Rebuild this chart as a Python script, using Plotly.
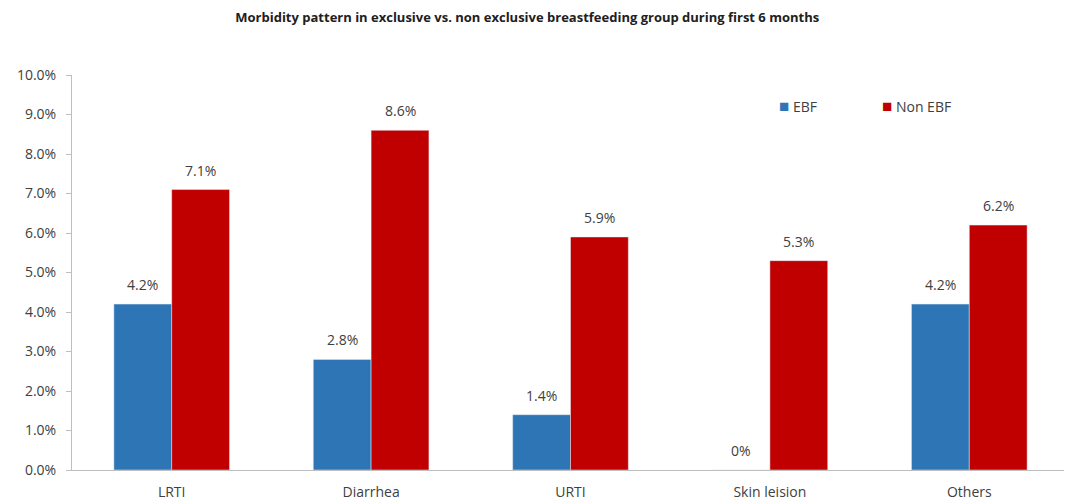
import plotly.graph_objects as go

categories = ["LRTI", "Diarrhea", "URTI", "Skin leision", "Others"]
ebf = [0.042, 0.028, 0.014, 0.0, 0.042]
non_ebf = [0.071, 0.086, 0.059, 0.053, 0.062]
ebf_labels = ["4.2%", "2.8%", "1.4%", "0%", "4.2%"]
non_ebf_labels = ["7.1%", "8.6%", "5.9%", "5.3%", "6.2%"]

EBF_COLOR = "#2E75B6"
NON_EBF_COLOR = "#C00000"
font_family = "Open Sans, Liberation Sans, sans-serif"
text_color = "#404040"

fig = go.Figure()
fig.add_bar(x=categories, y=ebf, name="EBF", marker_color=EBF_COLOR)
fig.add_bar(x=categories, y=non_ebf, name="Non EBF", marker_color=NON_EBF_COLOR)

# data labels sitting a little above each bar
annotations = []
for cat, v, lab in zip(categories, ebf, ebf_labels):
    annotations.append(dict(x=cat, y=v, text=lab, xref="x", yref="y", showarrow=False,
                            xshift=-29, yshift=8, yanchor="bottom",
                            font=dict(size=14, color=text_color)))
for cat, v, lab in zip(categories, non_ebf, non_ebf_labels):
    annotations.append(dict(x=cat, y=v, text=lab, xref="x", yref="y", showarrow=False,
                            xshift=29, yshift=8, yanchor="bottom",
                            font=dict(size=14, color=text_color)))

# legend drawn as text, Excel style (small square right next to the name)
annotations.append(dict(x=0.707, y=0.924, xref="paper", yref="paper", showarrow=False,
                        xanchor="left", yanchor="middle",
                        text=f"<span style='color:{EBF_COLOR};font-size:17px'>■</span> EBF",
                        font=dict(size=14, color=text_color)))
annotations.append(dict(x=0.81, y=0.924, xref="paper", yref="paper", showarrow=False,
                        xanchor="left", yanchor="middle",
                        text=f"<span style='color:{NON_EBF_COLOR};font-size:17px'>■</span> Non EBF",
                        font=dict(size=14, color=text_color)))

fig.update_layout(
    width=1064, height=496,
    barmode="group", bargap=0.42, bargroupgap=0,
    plot_bgcolor="white", paper_bgcolor="white",
    font=dict(family=font_family, color=text_color, size=14),
    title=dict(text="<b>Morbidity pattern in exclusive vs. non exclusive breastfeeding group during first 6 months</b>",
               x=0.488, xanchor="center", y=0.98, yanchor="middle",
               font=dict(size=13, color="#202020")),
    margin=dict(l=64, r=3, t=67, b=30),
    showlegend=False,
    annotations=annotations,
)
fig.update_yaxes(range=[0, 0.1], dtick=0.01, tickformat=".1%", showgrid=False,
                 showline=True, linecolor="#BFBFBF", linewidth=1,
                 ticks="outside", tickcolor="#BFBFBF", ticklen=5, ticklabelstandoff=7,
                 tickfont=dict(size=14, color=text_color), zeroline=False)
fig.update_xaxes(showline=True, linecolor="#BFBFBF", linewidth=1, ticks="",
                 ticklabelstandoff=9,
                 tickfont=dict(size=14, color=text_color), showgrid=False)

fig.write_html("out.html")
